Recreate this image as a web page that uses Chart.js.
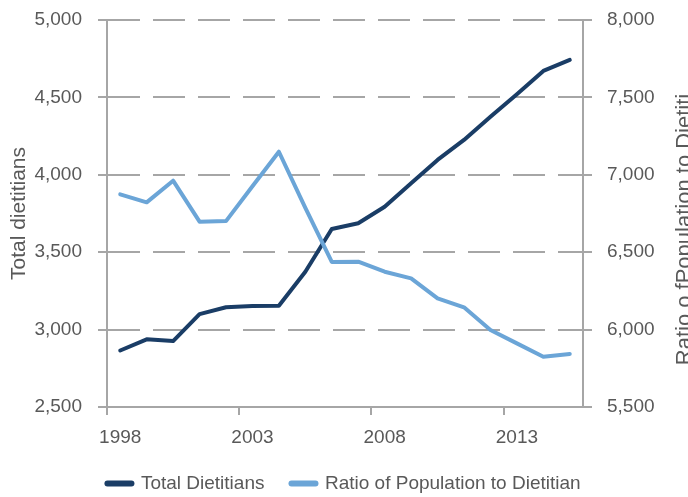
<!DOCTYPE html>
<html>
<head>
<meta charset="utf-8">
<script src="https://cdn.jsdelivr.net/npm/chart.js"></script>
<style>
  html, body { margin: 0; padding: 0; background: #fff; }
  canvas { display: block; }
</style>
</head>
<body>
<canvas id="chart" width="688" height="497"></canvas>
<script>
// данные графика
const years = ['1998', '1999', '2000', '2001', '2002', '2003', '2004', '2005', '2006',
               '2007', '2008', '2009', '2010', '2011', '2012', '2013', '2014', '2015'];
const totalDietitians = [2865, 2937, 2926, 3100, 3144, 3152, 3154, 3374, 3650,
                         3687, 3794, 3945, 4096, 4225, 4375, 4520, 4671, 4742];
const ratioPopulation = [6874, 6822, 6962, 6697, 6701, 6926, 7149, 6786, 6437,
                         6439, 6374, 6331, 6202, 6144, 5997, 5911, 5825, 5842];
const leftTicks = [2500, 3000, 3500, 4000, 4500, 5000];
const rightTicks = [5500, 6000, 6500, 7000, 7500, 8000];
const seriesNames = ['Total Dietitians', 'Ratio of Population to Dietitian'];
const leftTitle = 'Total dietitians';
const rightTitle = 'Ratio o fPopulation to Dietiti';

const DARK = '#1a3d66';
const LIGHT = '#6ba5d7';
const GRID = '#a6a6a6';
const TEXT = '#595959';
const SANS = '"Liberation Sans", Arial, sans-serif';

const fmt = v => Number(v).toLocaleString('en-US');

// заголовок правой оси читается снизу вверх, как левый
const rightTitlePlugin = {
    id: 'rightTitle',
    afterDraw(chart) {
        const {ctx, chartArea} = chart;
        ctx.save();
        ctx.translate(chart.width + 3, (chartArea.top + chartArea.bottom) / 2 + 16);
        ctx.rotate(-Math.PI / 2);
        ctx.font = '22px ' + SANS;
        ctx.fillStyle = TEXT;
        ctx.textAlign = 'center';
        ctx.textBaseline = 'alphabetic';
        ctx.fillText(rightTitle, 0, 0);
        ctx.restore();
    }
};

// фиксированная ширина оси без лишнего отступа сверху/снизу
const fixY = w => s => { s.width = w; s.paddingTop = 0; s.paddingBottom = 0; };

new Chart(document.getElementById('chart').getContext('2d'), {
    type: 'line',
    data: {
        labels: years,
        datasets: [{
            label: seriesNames[0],
            data: totalDietitians,
            yAxisID: 'y',
            borderColor: DARK,
            backgroundColor: DARK,
            borderWidth: 4,
            pointRadius: 0,
            tension: 0,
            borderCapStyle: 'round',
            borderJoinStyle: 'round',
            order: 1
        }, {
            label: seriesNames[1],
            data: ratioPopulation,
            yAxisID: 'y1',
            borderColor: LIGHT,
            backgroundColor: LIGHT,
            borderWidth: 4,
            pointRadius: 0,
            tension: 0,
            borderCapStyle: 'round',
            borderJoinStyle: 'round',
            order: 0
        }]
    },
    options: {
        responsive: false,
        animation: false,
        devicePixelRatio: 1,
        layout: {padding: {top: 20, left: 0, right: 0, bottom: 0}},
        plugins: {
            legend: {
                position: 'bottom',
                maxHeight: 50,
                labels: {
                    usePointStyle: true,
                    pointStyleWidth: 24,
                    padding: 27,
                    color: TEXT,
                    font: {family: SANS, size: 19},
                    generateLabels(chart) {
                        return chart.data.datasets.map((ds, i) => ({
                            text: ds.label,
                            fillStyle: ds.borderColor,
                            strokeStyle: ds.borderColor,
                            lineWidth: 6,
                            lineCap: 'round',
                            pointStyle: 'line',
                            fontColor: TEXT,
                            hidden: false,
                            datasetIndex: i
                        }));
                    }
                }
            },
            tooltip: {enabled: false}
        },
        scales: {
            x: {
                type: 'category',
                offset: true,
                afterFit: s => { s.height = 40; },
                grid: {
                    offset: true,
                    drawOnChartArea: false,
                    drawTicks: true,
                    tickLength: 8,
                    lineWidth: 2,
                    color: c => (c.index % 5 === 0 ? GRID : 'rgba(0,0,0,0)')
                },
                border: {display: true, color: GRID, width: 2},
                ticks: {
                    autoSkip: false,
                    maxRotation: 0,
                    padding: 13.5,
                    color: TEXT,
                    font: {family: SANS, size: 19, lineHeight: 1},
                    callback: function (v, i) { return i % 5 === 0 ? this.getLabelForValue(v) : ''; }
                }
            },
            y: {
                position: 'left',
                min: leftTicks[0],
                max: leftTicks[leftTicks.length - 1],
                afterBuildTicks: s => { s.ticks = leftTicks.map(v => ({value: v})); },
                afterFit: fixY(107),
                grid: {color: GRID, lineWidth: 2, tickLength: 9},
                border: {display: true, color: GRID, width: 2, dash: [32, 13]},
                ticks: {padding: 16, color: TEXT, font: {family: SANS, size: 19}, callback: fmt},
                title: {
                    display: true,
                    text: leftTitle,
                    color: TEXT,
                    font: {family: SANS, size: 21},
                    padding: {top: 7, bottom: 0}
                }
            },
            y1: {
                position: 'right',
                min: rightTicks[0],
                max: rightTicks[rightTicks.length - 1],
                afterBuildTicks: s => { s.ticks = rightTicks.map(v => ({value: v})); },
                afterFit: fixY(105),
                grid: {drawOnChartArea: false, color: GRID, lineWidth: 2, tickLength: 9},
                border: {display: true, color: GRID, width: 2},
                ticks: {padding: 15, color: TEXT, font: {family: SANS, size: 19}, callback: fmt}
            }
        }
    },
    plugins: [rightTitlePlugin]
});
</script>
</body>
</html>
